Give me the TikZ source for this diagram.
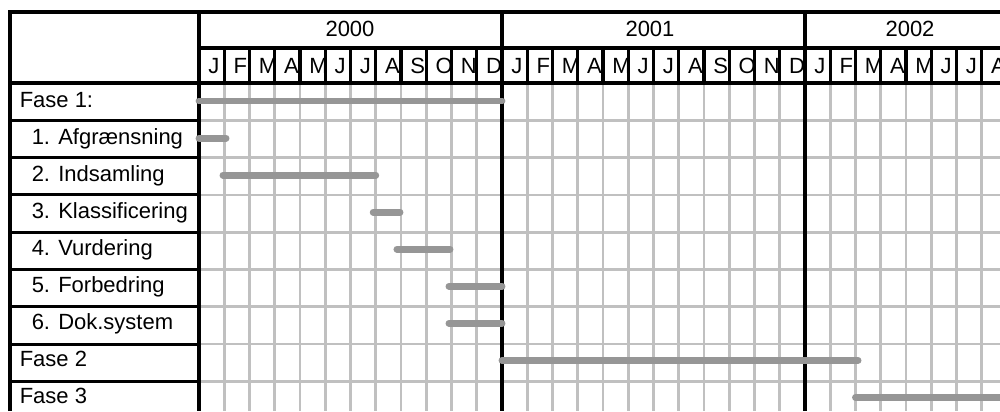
\documentclass[tikz,border=0pt]{standalone}
\usepackage{fontspec}
\setmainfont{Liberation Sans}
\usepackage{tikz}
\definecolor{gridgray}{RGB}{192,192,192}
\definecolor{bargray}{RGB}{150,150,150}
\tikzset{
  gridline/.style={draw=gridgray, line width=2pt},
  frameline/.style={draw=black, line width=2.3pt},
  fasebar/.style={draw=bargray, line width=5.2pt, line cap=round},
  monthlbl/.style={anchor=base west, inner sep=0pt},
  yearlbl/.style={anchor=base, inner sep=0pt},
  rowlbl/.style={anchor=base west, inner sep=0pt}
}

\begin{document}
\begin{tikzpicture}[
  x=0.75pt, y=-0.75pt,
  font=\fontsize{16.5}{19.8}\selectfont
]
\useasboundingbox (0,0) rectangle (1000,411);
\clip (0,0) rectangle (1000,411);
\foreach \m in {1,...,31}
  \draw[gridline] ({199+25.25*\m},83) -- ({199+25.25*\m},411);
\foreach \k in {1,...,8}
  \draw[gridline] (199,{83+37.3*\k}) -- (1000,{83+37.3*\k});
\draw[frameline] (10,411) -- (10,12) -- (1000,12);
\draw[frameline] (199,48) -- (1000,48);
\draw[frameline] (10,83) -- (1000,83);
\foreach \x in {199,502,805}
  \draw[frameline] (\x,12) -- (\x,411);
\foreach \m in {1,...,31}
  \draw[frameline] ({199+25.25*\m},48) -- ({199+25.25*\m},83);
\foreach \k in {1,...,8}
  \draw[frameline] (10,{83+37.3*\k}) -- (199,{83+37.3*\k});
\node[yearlbl] (y2000) at (350,36) {2000};
\node[yearlbl] (y2001) at (650,36) {2001};
\node[yearlbl] (y2002) at (910,36) {2002};
\foreach \l [count=\m from 0] in {J,F,M,A,M,J,J,A,S,O,N,D,J,F,M,A,M,J,J,A,S,O,N,D,J,F,M,A,M,J,J,A}
  \node[monthlbl] (m\m) at ({208+25.25*\m},73) {\l};
\foreach \t/\dx [count=\k from 0] in {Fase 1:/0, 1. Afgrænsning/12, 2. Indsamling/12,
    3. Klassificering/12, 4. Vurdering/12, 5. Forbedring/12, 6. Dok.system/12,
    Fase 2/0, Fase 3/0}
  \node[rowlbl] (row\k) at ({19.5+\dx},{107+37.1*\k}) {\t};
\foreach \k/\a/\b in {0/0/12, 1/0/1.07, 2/0.95/7, 3/6.9/7.96, 4/7.84/9.94,
    5/9.9/12, 6/9.9/12, 7/12/26.1, 8/26/40}
  \draw[fasebar] ({199+25.25*\a},{101+37.05*\k}) -- ({199+25.25*\b},{101+37.05*\k});
\end{tikzpicture}
\end{document}
